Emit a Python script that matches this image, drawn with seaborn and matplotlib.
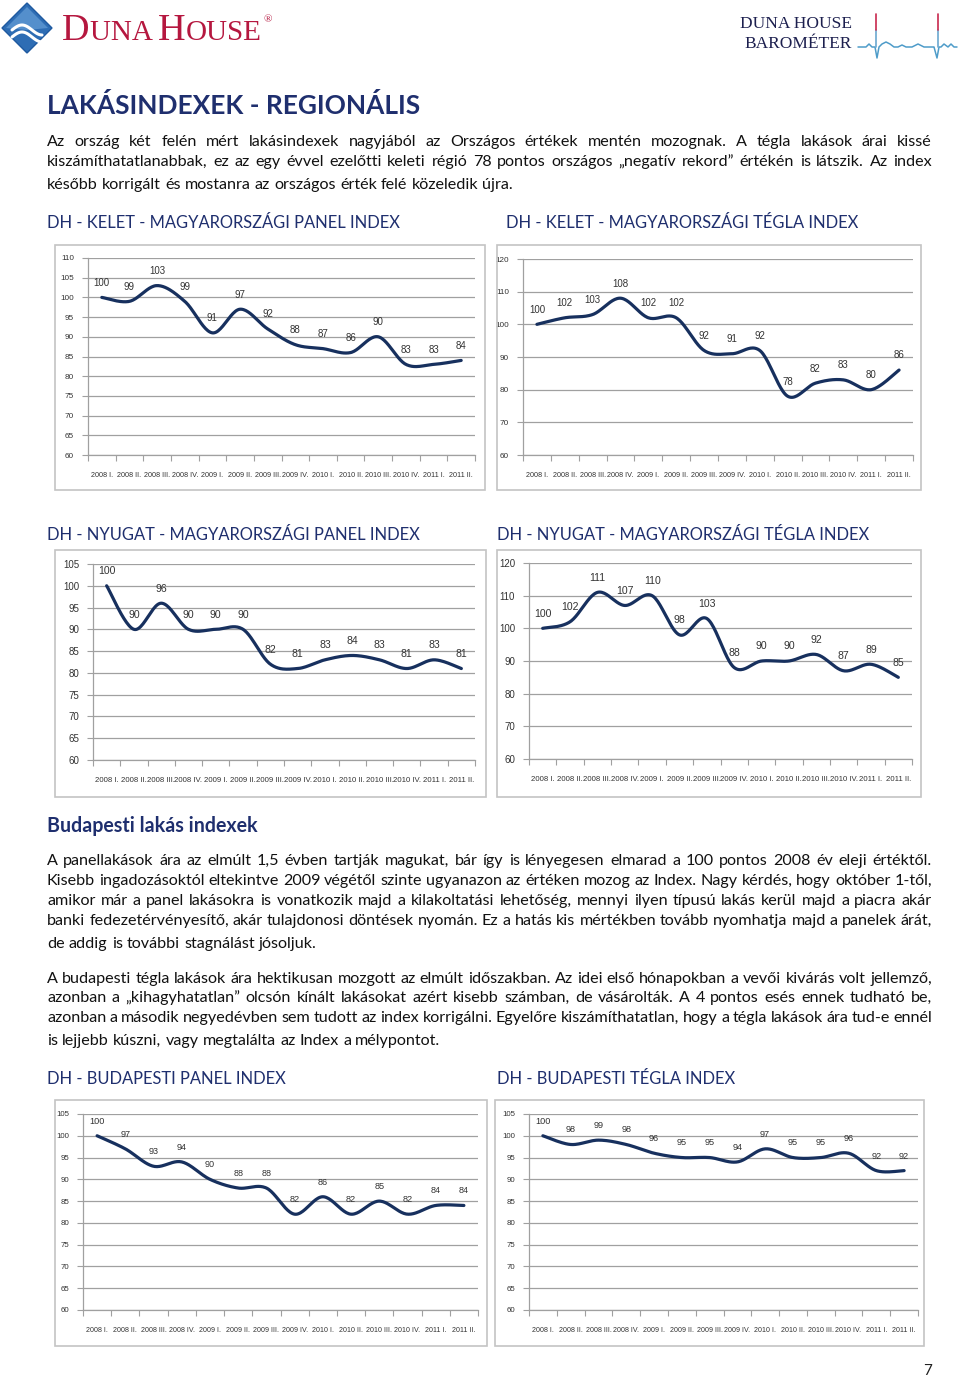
import numpy as np
import pandas as pd
import matplotlib
matplotlib.use("Agg")
import matplotlib.pyplot as plt
import seaborn as sns
from matplotlib.patches import Polygon, Rectangle
from matplotlib.lines import Line2D

# ---------------- data ----------------
quarters = ["2008 I.", "2008 II.", "2008 III.", "2008 IV.", "2009 I.", "2009 II.",
            "2009 III.", "2009 IV.", "2010 I.", "2010 II.", "2010 III.", "2010 IV.",
            "2011 I.", "2011 II."]
kelet_panel = [100, 99, 103, 99, 91, 97, 92, 88, 87, 86, 90, 83, 83, 84]
kelet_tegla = [100, 102, 103, 108, 102, 102, 92, 91, 92, 78, 82, 83, 80, 86]
nyugat_panel = [100, 90, 96, 90, 90, 90, 82, 81, 83, 84, 83, 81, 83, 81]
nyugat_tegla = [100, 102, 111, 107, 110, 98, 103, 88, 90, 90, 92, 87, 89, 85]
bp_panel = [100, 97, 93, 94, 90, 88, 88, 82, 86, 82, 85, 82, 84, 84]
bp_tegla = [100, 98, 99, 98, 96, 95, 95, 94, 97, 95, 95, 96, 92, 92]

yt_5_110 = list(range(60, 111, 5))
yt_10_120 = list(range(60, 121, 10))
yt_5_105 = list(range(60, 106, 5))

title = "LAKÁSINDEXEK - REGIONÁLIS"
p1 = ["Az ország két felén mért lakásindexek nagyjából az Országos értékek mentén mozognak. A tégla lakások árai kissé",
      "kiszámíthatatlanabbak, ez az egy évvel ezelőtti keleti régió 78 pontos országos „negatív rekord” értékén is látszik. Az index",
      "később korrigált és mostanra az országos érték felé közeledik újra."]
sub_title = "Budapesti lakás indexek"
p2 = ["A panellakások ára az elmúlt 1,5 évben tartják magukat, bár így is lényegesen elmarad a 100 pontos 2008 év eleji értéktől.",
      "Kisebb ingadozásoktól eltekintve 2009 végétől szinte ugyanazon az értéken mozog az Index. Nagy kérdés, hogy október 1-től,",
      "amikor már a panel lakásokra is vonatkozik majd a kilakoltatási lehetőség, mennyi ilyen típusú lakás kerül majd a piacra akár",
      "banki fedezetérvényesítő, akár tulajdonosi döntések nyomán. Ez a hatás kis mértékben tovább nyomhatja majd a panelek árát,",
      "de addig is további stagnálást jósoljuk."]
p3 = ["A budapesti tégla lakások ára hektikusan mozgott az elmúlt időszakban. Az idei első hónapokban a vevői kivárás volt jellemző,",
      "azonban a „kihagyhatatlan” olcsón kínált lakásokat azért kisebb számban, de vásárolták. A 4 pontos esés ennek tudható be,",
      "azonban a második negyedévben sem tudott az index korrigálni. Egyelőre kiszámíthatatlan, hogy a tégla lakások ára tud-e ennél",
      "is lejjebb kúszni, vagy megtalálta az Index a mélypontot."]
chart_titles = ["DH - KELET - MAGYARORSZÁGI PANEL INDEX", "DH - KELET - MAGYARORSZÁGI TÉGLA INDEX",
                "DH - NYUGAT - MAGYARORSZÁGI PANEL INDEX", "DH - NYUGAT - MAGYARORSZÁGI TÉGLA INDEX",
                "DH - BUDAPESTI PANEL INDEX", "DH - BUDAPESTI TÉGLA INDEX"]

# ---------------- style ----------------
sns.set_theme(style="white")
plt.rcParams["font.family"] = ["Lato", "DejaVu Sans"]
NARROW = ["Liberation Sans Narrow", "DejaVu Sans Condensed", "Liberation Sans", "DejaVu Sans"]
NAVY = "#1F2F6E"
LINE = "#17305E"
GRID = "#A0A0A0"
BOX = "#C4C4C4"

W, H = 960, 1380
fig = plt.figure(figsize=(9.6, 13.8), dpi=100)
fig.patch.set_facecolor("white")
renderer = fig.canvas.get_renderer()


def fx(px):
    return px / W


def fy(py):
    return 1 - py / H


def text_w(s, size, **kw):
    t = fig.text(0, 0, s, fontsize=size, **kw)
    w = t.get_window_extent(renderer).width
    t.remove()
    return w


def fit_size(s, target, base=12, **kw):
    return base * target / text_w(s, base, **kw)


def put(x, y, s, size, **kw):
    kw.setdefault("va", "center")
    return fig.text(fx(x), fy(y), s, fontsize=size, **kw)


def body_size(paras, width=885, base=12, min_space=0.22):
    sizes = []
    for lines in paras:
        for line in lines[:-1]:
            words = line.split(" ")
            nat = sum(text_w(w, base) for w in words) + (len(words) - 1) * base * 100 / 72 * min_space
            sizes.append(base * width / nat)
    return min(sizes)


def justify(lines, ys, size, x0=47, x1=932, **kw):
    for k, (line, y) in enumerate(zip(lines, ys)):
        words = line.split(" ")
        last = k == len(lines) - 1
        texts = [fig.text(0, fy(y), w, fontsize=size, va="center", ha="left", **kw) for w in words]
        widths = [t.get_window_extent(renderer).width for t in texts]
        if last:
            gap = size * 100 / 72 * 0.26
        else:
            gap = (x1 - x0 - sum(widths)) / (len(words) - 1)
        x = x0
        for t, w in zip(texts, widths):
            t.set_x(fx(x))
            x += w + gap


def smooth(vals, n=24):
    y = np.asarray(vals, float)
    pts = np.column_stack([np.arange(len(y), dtype=float), y])
    P = np.vstack([pts[0], pts, pts[-1]])
    t = np.linspace(0, 1, n, endpoint=False)[:, None]
    out = []
    for i in range(1, len(P) - 2):
        p0, p1, p2, p3 = P[i - 1], P[i], P[i + 1], P[i + 2]
        c1 = p1 + (p2 - p0) / 6
        c2 = p2 - (p3 - p1) / 6
        out.append((1 - t) ** 3 * p1 + 3 * (1 - t) ** 2 * t * c1 + 3 * (1 - t) * t ** 2 * c2 + t ** 3 * p2)
    out.append(pts[-1][None, :])
    return np.vstack(out)


def chart(box, axbox, values, yticks, ytick_fs, xtick_fs, lab_fs):
    bx0, by0, bx1, by1 = box
    fig.patches.append(Rectangle((fx(bx0), fy(by1)), (bx1 - bx0) / W, (by1 - by0) / H,
                                 transform=fig.transFigure, fill=False, edgecolor=BOX, lw=1.2))
    l, t, r, b = axbox
    ax = fig.add_axes([fx(l), fy(b), (r - l) / W, (b - t) / H])
    ax.set_facecolor("none")
    n = len(values)
    ax.set_xlim(-0.5, n - 0.5)
    ax.set_ylim(yticks[0], yticks[-1])
    ax.set_yticks(yticks)
    ax.set_yticklabels([str(v) for v in yticks], family=NARROW, stretch="condensed",
                       fontsize=ytick_fs, color="#333333")
    ax.set_xticks(range(n))
    ax.set_xticklabels(quarters, family=NARROW, stretch="condensed", fontsize=xtick_fs, color="#333333")
    ax.set_xticks(np.arange(-0.5, n, 1.0), minor=True)
    ax.yaxis.grid(True, color=GRID, lw=0.9)
    ax.set_axisbelow(True)
    ax.tick_params(axis="x", which="major", bottom=True, length=0, pad=12)
    ax.tick_params(axis="x", which="minor", bottom=True, length=4, color=GRID, width=0.8)
    ax.tick_params(axis="y", left=True, length=4, color=GRID, width=0.8, pad=6)
    for s in ["top", "right"]:
        ax.spines[s].set_visible(False)
    for s in ["left", "bottom"]:
        ax.spines[s].set_color(GRID)
        ax.spines[s].set_linewidth(0.9)
    curve = smooth(values)
    df = pd.DataFrame({"x": curve[:, 0], "y": curve[:, 1]})
    sns.lineplot(data=df, x="x", y="y", ax=ax, sort=False, estimator=None,
                 color=LINE, linewidth=2.3)
    ax.set_xlabel("")
    ax.set_ylabel("")
    for i, v in enumerate(values):
        ax.annotate(str(v), (i, v), xytext=(0, 10.5), textcoords="offset points",
                    ha="center", va="center", fontsize=lab_fs, family=NARROW,
                    stretch="condensed", color="#333333")
    return ax


# ---------------- header ----------------
fig.patches.append(Polygon([(fx(27), fy(3)), (fx(52), fy(28)), (fx(27), fy(53)), (fx(2), fy(28))],
                           closed=True, transform=fig.transFigure, facecolor="#2E6DB4", edgecolor="#1F5AA0", lw=1))
fig.patches.append(Polygon([(fx(27), fy(7)), (fx(48), fy(28)), (fx(27), fy(30)), (fx(6), fy(28))],
                           closed=True, transform=fig.transFigure, facecolor="#6FA6DD", edgecolor="none", alpha=0.6))
for dy in (0, 7):
    xs = np.linspace(12, 42, 30)
    ys = 30 + dy - 5 * np.sin((xs - 12) / 30 * np.pi * 1.5)
    fig.lines.append(Line2D(fx(xs), fy(ys), transform=fig.transFigure, color="white", lw=2.2))

pieces = [("D", 27.5), ("UNA ", 21), ("H", 27.5), ("OUSE", 21)]
x = 62
for s, fs in pieces:
    t = fig.text(fx(x), fy(40), s, fontsize=fs, family=["Liberation Serif", "DejaVu Serif"],
                 color="#B5173F", va="baseline", ha="left")
    x += t.get_window_extent(renderer).width
fig.text(fx(x + 2), fy(20), "®", fontsize=8, family=["Liberation Serif", "DejaVu Serif"],
         color="#B5173F", va="center", ha="left")

put(796, 24, "DUNA HOUSE", 12.5, family=["Liberation Serif", "DejaVu Serif"], color="#1C1F4E", ha="center")
put(798, 44, "BAROMÉTER", 12.5, family=["Liberation Serif", "DejaVu Serif"], color="#1C1F4E", ha="center")
ecg_x = [858, 866, 869, 872, 875, 877, 879, 882, 886, 890, 894, 898, 902, 906, 912, 918, 924, 930, 934, 937, 939, 941, 944, 948, 951, 954, 957]
ecg_y = [47, 47, 44, 47, 47, 58, 47, 44, 42, 44, 47, 47, 45, 47, 47, 44, 47, 47, 47, 58, 47, 47, 44, 47, 44, 47, 47]
fig.lines.append(Line2D(fx(np.array(ecg_x)), fy(np.array(ecg_y)), transform=fig.transFigure, color="#4E9CC9", lw=1.1))
for sx in (876, 938):
    fig.lines.append(Line2D([fx(sx), fx(sx)], [fy(47), fy(30)], transform=fig.transFigure, color="#6BA8D0", lw=1.2))
    fig.lines.append(Line2D([fx(sx), fx(sx)], [fy(30), fy(14)], transform=fig.transFigure, color="#C8294E", lw=1.2))

# ---------------- texts ----------------
ts = fit_size(title, 374, weight="bold")
put(47, 105, title, ts, weight="bold", color=NAVY)

body_fs = body_size([p1, p2, p3])
justify(p1, [142, 162, 185], body_fs, color="#111111")

hs = fit_size(chart_titles[0], 353)
put(47, 223, chart_titles[0], hs, color=NAVY)
put(506, 223, chart_titles[1], hs, color=NAVY)
put(47, 535, chart_titles[2], hs, color=NAVY)
put(497, 535, chart_titles[3], hs, color=NAVY)
put(47, 1079, chart_titles[4], hs, color=NAVY)
put(497, 1079, chart_titles[5], hs, color=NAVY)

ss = fit_size(sub_title, 209, weight="bold")
put(47, 826, sub_title, ss, weight="bold", color=NAVY)

justify(p2, [861, 881, 901, 921, 944], body_fs, color="#111111")
justify(p3, [979, 998, 1018, 1041], body_fs, color="#111111")

put(928, 1371, "7", 11, color="#222222", ha="center")

# ---------------- charts ----------------
chart((55, 245, 485, 490), (88, 258, 475, 455), kelet_panel, yt_5_110, 5.9, 5.2, 7.0)
chart((497, 245, 921, 490), (523, 259, 913, 455), kelet_tegla, yt_10_120, 5.9, 5.2, 7.0)
chart((55, 550, 486, 797), (93, 564, 475, 760), nyugat_panel, yt_5_105, 7.0, 5.6, 7.6)
chart((497, 550, 921, 797), (529, 563, 912, 759), nyugat_tegla, yt_10_120, 7.0, 5.6, 7.6)
chart((55, 1100, 487, 1346), (83, 1114, 478, 1310), bp_panel, yt_5_105, 5.7, 5.1, 6.6)
chart((495, 1100, 924, 1346), (529, 1114, 918, 1310), bp_tegla, yt_5_105, 5.7, 5.1, 6.6)

fig.savefig("out.png", dpi=100, facecolor="white")
